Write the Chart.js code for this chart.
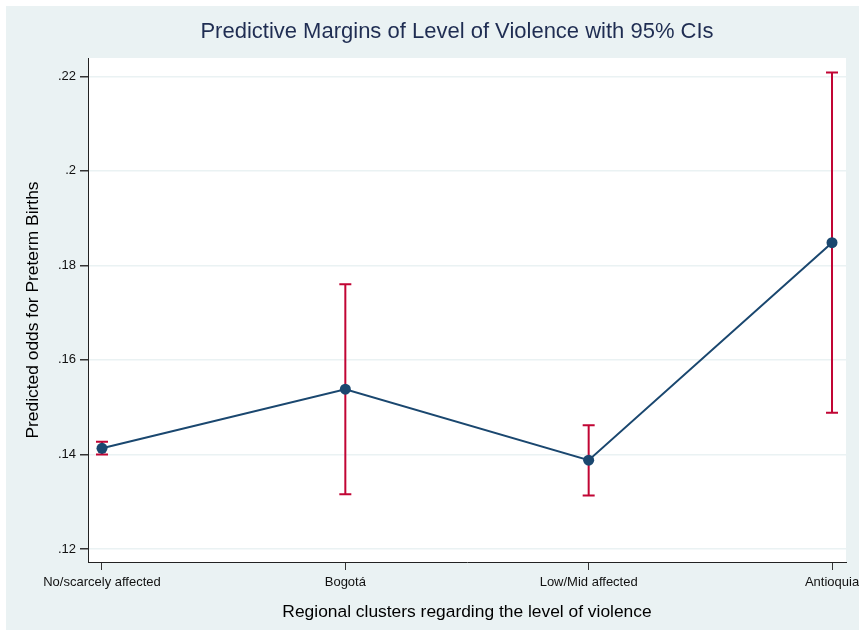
<!DOCTYPE html>
<html>
<head>
<meta charset="utf-8">
<script src="https://cdn.jsdelivr.net/npm/chart.js@4/dist/chart.umd.min.js"></script>
<style>
  html, body { margin: 0; padding: 0; background: #ffffff; }
  #wrap { position: absolute; left: 6px; top: 6px; width: 853px; height: 624px; background: #eaf2f3; }
</style>
</head>
<body>
<div id="wrap"><canvas id="margins" width="853" height="624"></canvas></div>
<script>
// Regional clusters and predicted margins with 95% confidence limits
const clusters = ['No/scarcely affected', 'Bogotá', 'Low/Mid affected', 'Antioquia'];
const margins = [0.1413, 0.1538, 0.1388, 0.1848];
const ciLow = [0.1400, 0.1316, 0.1313, 0.1488];
const ciHigh = [0.1427, 0.1760, 0.1462, 0.2208];
const yTicks = [0.12, 0.14, 0.16, 0.18, 0.20, 0.22];

const NAVY = '#1a476f';
const CI_RED = '#c10534';

// capped vertical lines for the confidence intervals
const ciBars = {
    id: 'ciBars',
    beforeDatasetsDraw(chart) {
        const { ctx, scales: { x, y } } = chart;
        ctx.save();
        ctx.strokeStyle = CI_RED;
        ctx.lineWidth = 2;
        clusters.forEach((_, i) => {
            const px = x.getPixelForValue(i);
            const top = y.getPixelForValue(ciHigh[i]);
            const bot = y.getPixelForValue(ciLow[i]);
            ctx.beginPath();
            ctx.moveTo(px, top);
            ctx.lineTo(px, bot);
            ctx.moveTo(px - 6, top);
            ctx.lineTo(px + 6, top);
            ctx.moveTo(px - 6, bot);
            ctx.lineTo(px + 6, bot);
            ctx.stroke();
        });
        ctx.restore();
    }
};

// graph title, centred over the plot region like Stata does
const graphTitle = {
    id: 'graphTitle',
    afterDraw(chart) {
        const { ctx, chartArea } = chart;
        ctx.save();
        ctx.font = '22px "Liberation Sans", Arial, sans-serif';
        ctx.fillStyle = '#1f2d52';
        ctx.textAlign = 'center';
        ctx.textBaseline = 'middle';
        ctx.fillText('Predictive Margins of Level of Violence with 95% CIs', (chartArea.left + chartArea.right) / 2 - 10, 26);
        ctx.restore();
    }
};

// plot region background
const plotRegion = {
    id: 'plotRegion',
    beforeDraw(chart) {
        const { ctx, chartArea: a } = chart;
        ctx.save();
        ctx.fillStyle = '#ffffff';
        ctx.fillRect(a.left, a.top, a.right - a.left, a.bottom - a.top);
        ctx.restore();
    }
};

Chart.defaults.font.family = '"Liberation Sans", Arial, sans-serif';
Chart.defaults.color = '#111111';

new Chart(document.getElementById('margins'), {
    type: 'line',
    data: {
        datasets: [{
            label: 'Predicted margin',
            data: margins.map((v, i) => ({ x: i, y: v })),
            borderColor: NAVY,
            backgroundColor: NAVY,
            borderWidth: 2,
            pointRadius: 5.5,
            pointBackgroundColor: NAVY,
            pointBorderColor: NAVY,
            pointBorderWidth: 0,
            tension: 0,
            fill: false
        }]
    },
    options: {
        responsive: false,
        animation: false,
        layout: { padding: { top: 52, right: 13, bottom: 0, left: 0 } },
        plugins: {
            legend: { display: false },
            tooltip: { enabled: false },
            title: { display: false }
        },
        scales: {
            x: {
                type: 'linear',
                min: -0.0575,
                max: 3.0575,
                afterBuildTicks: (scale) => { scale.ticks = clusters.map((_, i) => ({ value: i })); },
                afterFit: (scale) => {
                    scale.height = 68;
                    scale.paddingLeft = 0;
                    scale.paddingRight = 0;
                },
                grid: { drawOnChartArea: false, tickLength: 8, tickColor: '#333333', lineWidth: 1 },
                border: { color: '#222222', width: 1 },
                ticks: {
                    autoSkip: false,
                    maxRotation: 0,
                    padding: 5,
                    font: { size: 13 },
                    callback: (v) => clusters[v]
                },
                title: {
                    display: true,
                    text: 'Regional clusters regarding the level of violence',
                    font: { size: 17.4 },
                    color: '#000000',
                    padding: { top: 0, bottom: 7 }
                }
            },
            y: {
                min: 0.11725,
                max: 0.22387,
                afterBuildTicks: (scale) => { scale.ticks = yTicks.map(v => ({ value: v })); },
                afterFit: (scale) => { scale.width = 82; },
                grid: { color: '#eaf2f3', tickColor: '#333333', tickLength: 8, lineWidth: 1.5 },
                border: { color: '#222222', width: 1 },
                ticks: {
                    padding: 4,
                    font: { size: 13 },
                    callback: (v) => String(+v.toFixed(2)).replace(/^0/, '')
                },
                title: {
                    display: true,
                    text: 'Predicted odds for Preterm Births',
                    font: { size: 17.4 },
                    color: '#000000',
                    padding: { top: 17, bottom: 0 }
                }
            }
        }
    },
    plugins: [plotRegion, ciBars, graphTitle]
});
</script>
</body>
</html>
